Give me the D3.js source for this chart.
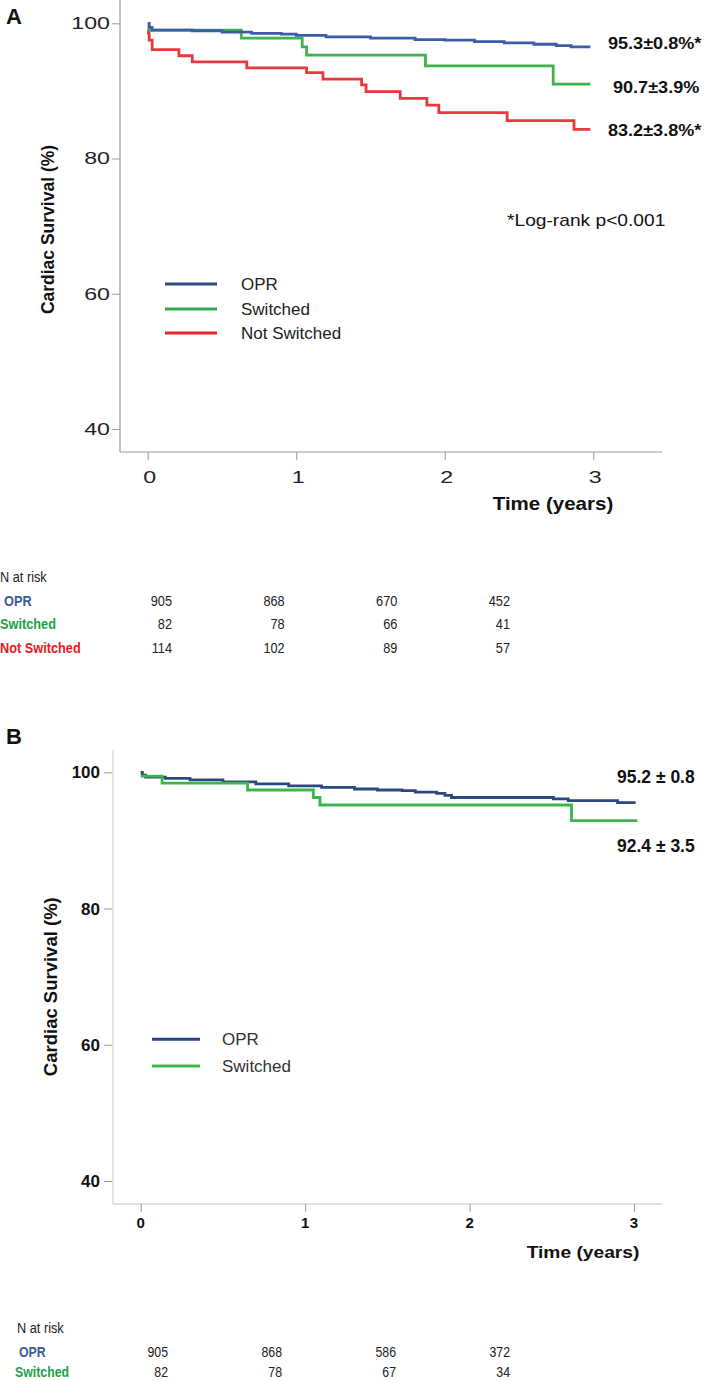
<!DOCTYPE html>
<html><head><meta charset="utf-8">
<script src="https://cdn.jsdelivr.net/npm/d3@7"></script>
<style>body{margin:0;background:#fff}svg{display:block}</style>
</head><body>
<svg id="c" width="709" height="1381"></svg>
<script>
// ---------- data ----------
const timeTicks = [0, 1, 2, 3];
const survTicks = [40, 60, 80, 100];

const aSeriesNames = ["OPR", "Switched", "Not Switched"];
const aOPR = [[0,100],[0.01,99.4],[0.03,99.0],[0.3,98.9],[0.5,98.7],[0.7,98.5],[0.9,98.4],[1.0,98.2],[1.2,98.0],[1.5,97.8],[1.8,97.6],[2.0,97.5],[2.2,97.3],[2.4,97.1],[2.6,96.9],[2.75,96.7],[2.85,96.5],[2.98,96.5]];
const aSwitched = [[0,99.5],[0.01,99.0],[0.63,97.8],[1.04,96.5],[1.07,95.3],[1.87,93.7],[2.73,91.0],[2.98,91.0]];
const aNotSwitched = [[0,99.0],[0.005,98.6],[0.01,97.5],[0.03,96.1],[0.21,95.2],[0.30,94.3],[0.667,93.4],[1.07,92.7],[1.18,91.75],[1.44,90.9],[1.47,89.9],[1.70,88.9],[1.88,87.9],[1.96,86.8],[2.42,85.6],[2.87,84.3],[2.98,84.3]];
const aEndLabels = ["95.3\u00b10.8%*", "90.7\u00b13.9%", "83.2\u00b13.8%*"];
const aRiskOPR = [905, 868, 670, 452];
const aRiskSwitched = [82, 78, 66, 41];
const aRiskNotSwitched = [114, 102, 89, 57];

const bSeriesNames = ["OPR", "Switched"];
const bOPR = [[0,100],[0.01,99.6],[0.03,99.3],[0.15,99.1],[0.3,98.9],[0.5,98.6],[0.7,98.3],[0.9,98.0],[1.1,97.8],[1.3,97.55],[1.44,97.4],[1.59,97.3],[1.67,97.1],[1.8,96.9],[1.85,96.6],[1.89,96.3],[2.51,96.1],[2.6,95.85],[2.9,95.55],[3.01,95.55]];
const bSwitched = [[0,99.45],[0.13,98.4],[0.65,97.4],[1.05,96.3],[1.09,95.2],[2.62,92.9],[3.02,92.9]];
const bEndLabels = ["95.2 \u00b1 0.8", "92.4 \u00b1 3.5"];
const bRiskOPR = [905, 868, 586, 372];
const bRiskSwitched = [82, 78, 67, 34];

// ---------- helpers ----------
const svg = d3.select("#c");
const FONT = "'Liberation Sans', Arial, Helvetica, sans-serif";
function txt(g, x, y, s, o = {}) {
  const t = g.append("text")
    .attr("transform", `translate(${x},${y})` + (o.rot ? ` rotate(${o.rot})` : "") + ` scale(${o.sx || 1},1)`)
    .attr("font-family", FONT)
    .attr("font-size", o.size || 14)
    .attr("font-weight", o.weight || "normal")
    .attr("text-anchor", o.anchor || "start")
    .attr("fill", o.fill || "#111")
    .text(s);
  return t;
}
const stepLine = (x, y) => d3.line().x(d => x(d[0])).y(d => y(d[1])).curve(d3.curveStepAfter);

// ---------- Panel A ----------
const colA = {OPR: "#3b5ca8", Switched: "#3cb44b", "Not Switched": "#e8383d"};
const legColA = {OPR: "#2d4b86", Switched: "#2fa84f", "Not Switched": "#e3262d"};
const xA = d3.scaleLinear().domain([0, 3]).range([147.7, 593.3]);
const yA = d3.scaleLinear().domain([40, 100]).range([429, 23.3]);
const gA = svg.append("g");
const axA = {left: 120, bottom: 452, top: 0, right: 662};

gA.append("line").attr("x1", axA.left).attr("x2", axA.left).attr("y1", axA.top).attr("y2", axA.bottom).attr("stroke", "#999").attr("stroke-width", 1.2);
gA.append("line").attr("x1", axA.left).attr("x2", axA.right).attr("y1", axA.bottom).attr("y2", axA.bottom).attr("stroke", "#999").attr("stroke-width", 1.2);

const yAxA = gA.append("g").attr("transform", `translate(${axA.left},0)`)
  .call(d3.axisLeft(yA).tickValues(survTicks).tickSize(8).tickFormat(""));
yAxA.select(".domain").remove();
yAxA.selectAll("line").attr("stroke", "#999");
const xAxA = gA.append("g").attr("transform", `translate(0,${axA.bottom})`)
  .call(d3.axisBottom(xA).tickValues(timeTicks).tickSize(8).tickFormat(""));
xAxA.select(".domain").remove();
xAxA.selectAll("line").attr("stroke", "#999");

survTicks.forEach(v => txt(gA, 110, yA(v) + 5.8, v, {size: 16, sx: 1.45, anchor: "end", fill: "#222"}));
timeTicks.forEach(v => txt(gA, xA(v) + 2, 482.5, v, {size: 16, sx: 1.45, anchor: "middle", fill: "#222"}));

txt(gA, 553, 509.5, "Time (years)", {size: 18, weight: "bold", sx: 1.14, anchor: "middle"});
txt(gA, 53.5, 229.5, "Cardiac Survival  (%)", {size: 17.5, weight: "bold", anchor: "middle", rot: -90});
txt(gA, 6, 23.5, "A", {size: 22, weight: "bold"});

const aData = {OPR: aOPR, Switched: aSwitched, "Not Switched": aNotSwitched};
["Not Switched", "Switched", "OPR"].forEach(k => {
  gA.append("path").attr("d", stepLine(xA, yA)(aData[k])).attr("fill", "none")
    .attr("stroke", colA[k]).attr("stroke-width", 2.8).attr("stroke-linejoin", "miter");
});

const aLabY = [48.7, 92.7, 135.7];
const aLabX = [608, 613, 608];
aEndLabels.forEach((s, i) => txt(gA, aLabX[i], aLabY[i], s, {size: 16, weight: "bold", sx: 1.13}));
txt(gA, 507, 225.7, "*Log-rank p<0.001", {size: 16, sx: 1.2});

const aLegY = [284, 309, 333];
aSeriesNames.forEach((k, i) => {
  gA.append("line").attr("x1", 165).attr("x2", 217).attr("y1", aLegY[i]).attr("y2", aLegY[i])
    .attr("stroke", legColA[k]).attr("stroke-width", 3);
  txt(gA, 241, aLegY[i] + 6, k, {size: 17, fill: "#222"});
});

// Risk table A
const riskColA = {OPR: "#3d5a99", Switched: "#1ea04a", "Not Switched": "#e8191f"};
const rxA = d3.scaleLinear().domain([0, 3]).range([172, 510]);
txt(gA, 0, 582, "N at risk", {size: 15, sx: 0.85, fill: "#222"});
const aRisk = {OPR: aRiskOPR, Switched: aRiskSwitched, "Not Switched": aRiskNotSwitched};
const aRowY = [606, 629.3, 653];
const aRowX = [4, 0, 0];
aSeriesNames.forEach((k, i) => {
  txt(gA, aRowX[i], aRowY[i], k, {size: 15, weight: "bold", sx: 0.85, fill: riskColA[k]});
  aRisk[k].forEach((n, j) => txt(gA, rxA(j), aRowY[i], n, {size: 15, sx: 0.85, anchor: "end", fill: "#222"}));
});

// ---------- Panel B ----------
const colB = {OPR: "#2a4a7f", Switched: "#3cb54a"};
const xB = d3.scaleLinear().domain([0, 3]).range([140.7, 634]);
const yB = d3.scaleLinear().domain([40, 100]).range([1181, 772.3]);
const gB = svg.append("g");
const axB = {left: 113, bottom: 1204, top: 750, right: 662};

gB.append("line").attr("x1", axB.left).attr("x2", axB.left).attr("y1", axB.top).attr("y2", axB.bottom).attr("stroke", "#d6d6d6").attr("stroke-width", 1.3);
gB.append("line").attr("x1", axB.left).attr("x2", axB.right).attr("y1", axB.bottom).attr("y2", axB.bottom).attr("stroke", "#d6d6d6").attr("stroke-width", 1.3);

const yAxB = gB.append("g").attr("transform", `translate(${axB.left - 1},0)`)
  .call(d3.axisLeft(yB).tickValues(survTicks).tickSize(8).tickFormat(""));
yAxB.select(".domain").remove();
yAxB.selectAll("line").attr("stroke", "#999");
const xAxB = gB.append("g").attr("transform", `translate(0,${axB.bottom})`)
  .call(d3.axisBottom(xB).tickValues(timeTicks).tickSize(8).tickFormat(""));
xAxB.select(".domain").remove();
xAxB.selectAll("line").attr("stroke", "#999");

survTicks.forEach(v => txt(gB, 100, yB(v) + 6, v, {size: 17, weight: "bold", anchor: "end"}));
timeTicks.forEach(v => txt(gB, xB(v), 1228, v, {size: 15, weight: "bold", anchor: "middle"}));
txt(gB, 583, 1258, "Time (years)", {size: 16, weight: "bold", sx: 1.2, anchor: "middle"});
txt(gB, 57, 986.7, "Cardiac Survival (%)", {size: 18.5, weight: "bold", anchor: "middle", rot: -90});
txt(gB, 6, 744, "B", {size: 22, weight: "bold"});

const bData = {OPR: bOPR, Switched: bSwitched};
["OPR", "Switched"].forEach(k => {
  gB.append("path").attr("d", stepLine(xB, yB)(bData[k])).attr("fill", "none")
    .attr("stroke", colB[k]).attr("stroke-width", 2.8);
});
const bLabY = [783.3, 852];
bEndLabels.forEach((s, i) => txt(gB, 617, bLabY[i], s, {size: 17.5, weight: "bold"}));

const bLegY = [1039.3, 1066];
bSeriesNames.forEach((k, i) => {
  gB.append("line").attr("x1", 152).attr("x2", 200).attr("y1", bLegY[i]).attr("y2", bLegY[i])
    .attr("stroke", colB[k]).attr("stroke-width", 3);
  txt(gB, 222, bLegY[i] + 6, k, {size: 17, fill: "#333"});
});

// Risk table B
const rxB = d3.scaleLinear().domain([0, 3]).range([168, 510]);
txt(gB, 17, 1333, "N at risk", {size: 15, sx: 0.85, fill: "#222"});
const bRisk = {OPR: bRiskOPR, Switched: bRiskSwitched};
const bRowY = [1356.5, 1376.5];
const bRowX = [19, 15];
bSeriesNames.forEach((k, i) => {
  txt(gB, bRowX[i], bRowY[i], k, {size: 14.5, weight: "bold", sx: 0.85, fill: riskColA[k]});
  bRisk[k].forEach((n, j) => txt(gB, rxB(j), bRowY[i], n, {size: 14.5, sx: 0.85, anchor: "end", fill: "#222"}));
});
</script>
</body></html>
